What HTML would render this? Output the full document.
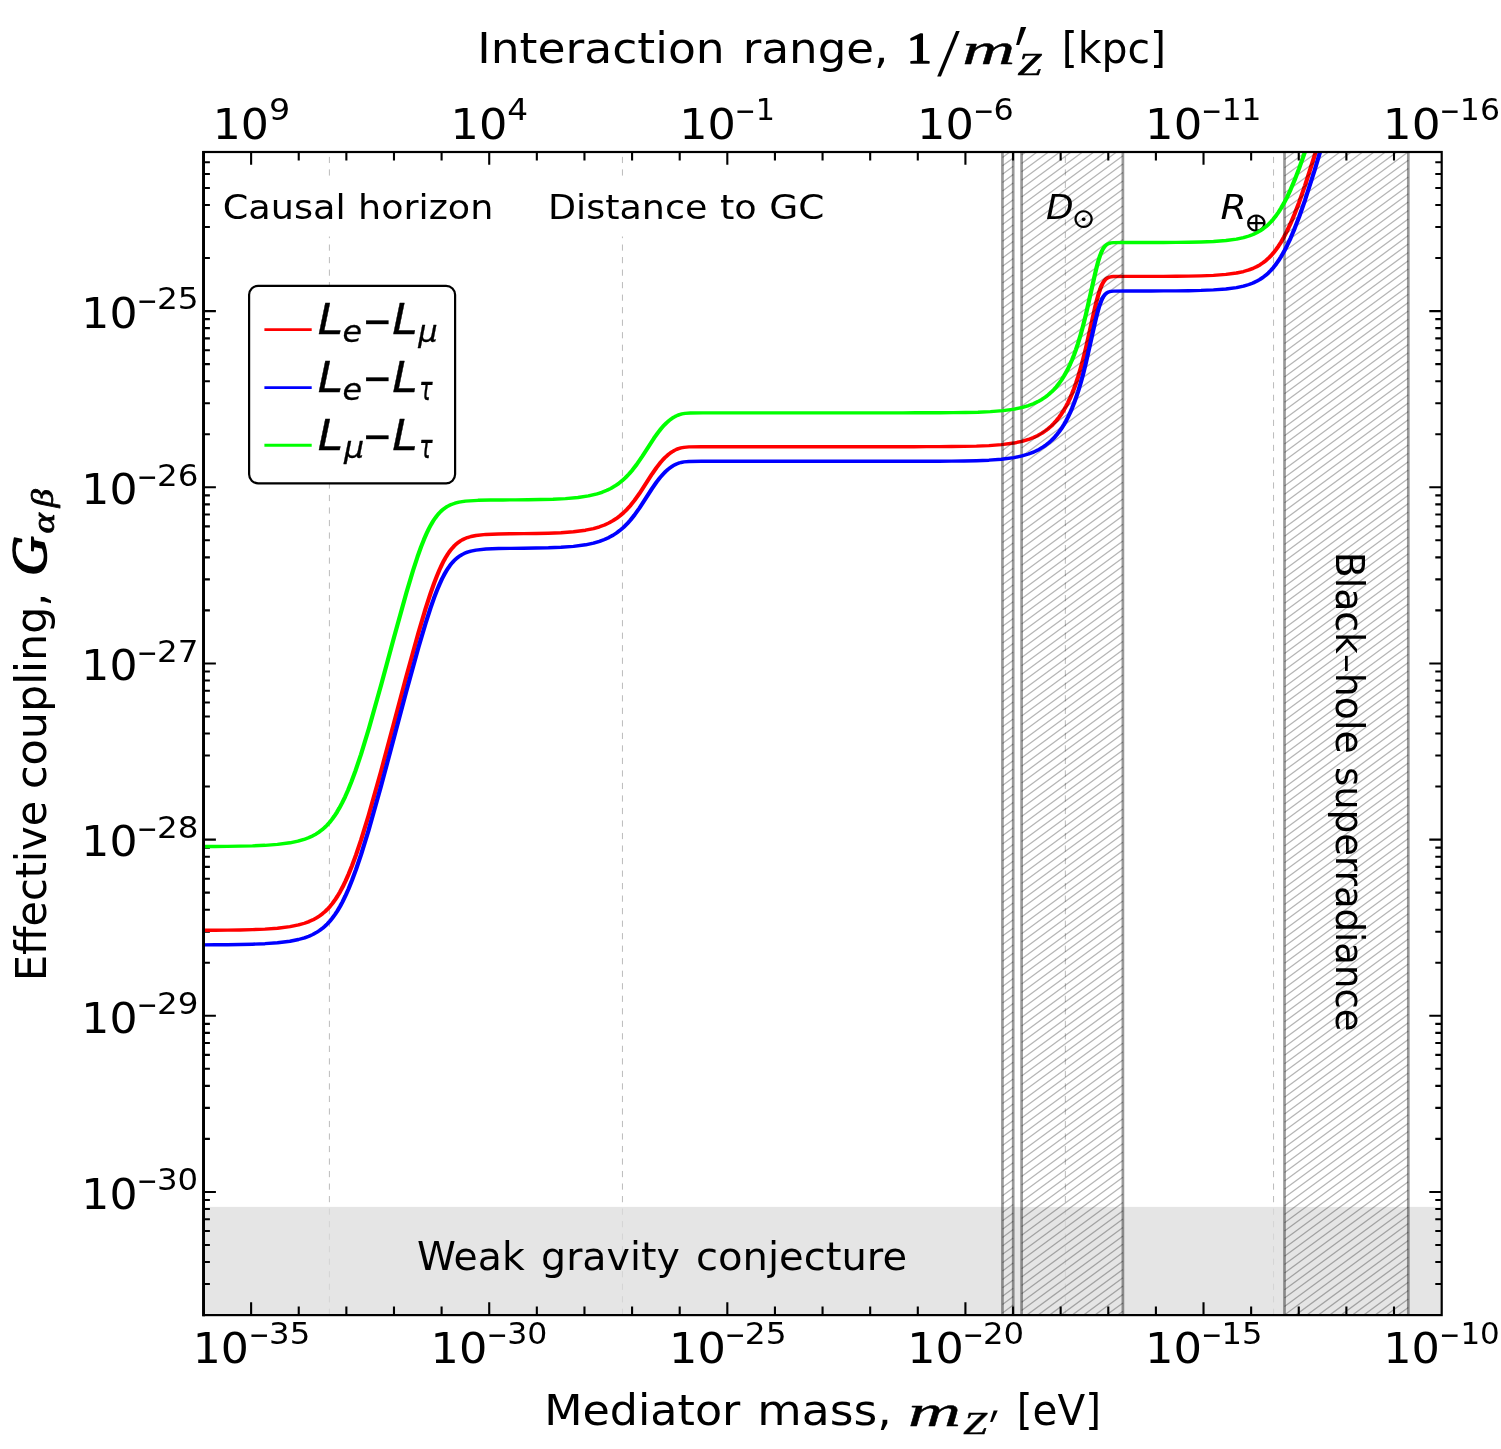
<!DOCTYPE html>
<html lang="en"><head><meta charset="utf-8"><title>Effective coupling vs mediator mass</title>
<style>html,body{margin:0;padding:0;background:#fff}svg{display:block}text{font-family:"DejaVu Sans","Liberation Sans",sans-serif;fill:#000}.i{font-style:italic}.b{font-weight:bold}.r,.rb,.rbi,.ri{font-family:"Liberation Serif","DejaVu Serif",serif}.rb,.rbi{font-weight:bold}.rbi,.ri{font-style:italic}.ds{font-family:"DejaVu Serif",serif}.dbi{font-family:"DejaVu Serif",serif;font-weight:bold;font-style:italic}</style></head><body>
<svg xmlns="http://www.w3.org/2000/svg" width="1501" height="1449" viewBox="0 0 1501 1449">
<defs>
<clipPath id="c"><rect x="203.50" y="152.00" width="1238.20" height="1163.10"/></clipPath>
</defs>
<rect width="1501" height="1449" fill="#fff"/>
<g stroke="#000" stroke-opacity="0.27" stroke-width="1" stroke-dasharray="6.2 6.32" stroke-dashoffset="7.66" fill="none">
<line x1="329.40" y1="152.0" x2="329.40" y2="1315.1"/>
<line x1="622.45" y1="152.0" x2="622.45" y2="1315.1"/>
<line x1="1065.35" y1="152.0" x2="1065.35" y2="1315.1"/>
<line x1="1273.55" y1="152.0" x2="1273.55" y2="1315.1"/>
</g>
<rect x="322" y="181" width="15" height="55.5" fill="#fff"/><rect x="615" y="181" width="15" height="55.5" fill="#fff"/>
<rect x="203.50" y="1206.9" width="1238.20" height="108.20" fill="#dcdcdc" fill-opacity="0.75"/>
<g>
<text transform="translate(1045.94 218.60) scale(1.0502 1)" font-size="34.18" class="i">D</text>
<text transform="translate(1071.22 228.00) scale(1.0556 1)" font-size="28.10" class="ds">⊙</text>
<text transform="translate(1220.61 218.60) scale(1.0951 1)" font-size="34.45" class="i">R</text>
<text transform="translate(1243.63 232.00) scale(1.0678 1)" font-size="27.63" class="ds">⊕</text>
</g>
<g stroke="#000" stroke-width="2.1" fill="none">
<path d="M251.12,152.00v12.8M251.12,1315.10v-12.8"/>
<path d="M298.74,152.00v8.5M298.74,1315.10v-8.5"/>
<path d="M346.36,152.00v8.5M346.36,1315.10v-8.5"/>
<path d="M393.98,152.00v8.5M393.98,1315.10v-8.5"/>
<path d="M441.60,152.00v8.5M441.60,1315.10v-8.5"/>
<path d="M489.22,152.00v12.8M489.22,1315.10v-12.8"/>
<path d="M536.84,152.00v8.5M536.84,1315.10v-8.5"/>
<path d="M584.46,152.00v8.5M584.46,1315.10v-8.5"/>
<path d="M632.08,152.00v8.5M632.08,1315.10v-8.5"/>
<path d="M679.70,152.00v8.5M679.70,1315.10v-8.5"/>
<path d="M727.32,152.00v12.8M727.32,1315.10v-12.8"/>
<path d="M774.94,152.00v8.5M774.94,1315.10v-8.5"/>
<path d="M822.56,152.00v8.5M822.56,1315.10v-8.5"/>
<path d="M870.18,152.00v8.5M870.18,1315.10v-8.5"/>
<path d="M917.80,152.00v8.5M917.80,1315.10v-8.5"/>
<path d="M965.42,152.00v12.8M965.42,1315.10v-12.8"/>
<path d="M1013.04,152.00v8.5M1013.04,1315.10v-8.5"/>
<path d="M1060.66,152.00v8.5M1060.66,1315.10v-8.5"/>
<path d="M1108.28,152.00v8.5M1108.28,1315.10v-8.5"/>
<path d="M1155.90,152.00v8.5M1155.90,1315.10v-8.5"/>
<path d="M1203.52,152.00v12.8M1203.52,1315.10v-12.8"/>
<path d="M1251.14,152.00v8.5M1251.14,1315.10v-8.5"/>
<path d="M1298.76,152.00v8.5M1298.76,1315.10v-8.5"/>
<path d="M1346.38,152.00v8.5M1346.38,1315.10v-8.5"/>
<path d="M1394.00,152.00v8.5M1394.00,1315.10v-8.5"/>
<path d="M203.50,1284.06h6.4M1441.70,1284.06h-6.4"/>
<path d="M203.50,1262.05h6.4M1441.70,1262.05h-6.4"/>
<path d="M203.50,1244.98h6.4M1441.70,1244.98h-6.4"/>
<path d="M203.50,1231.03h6.4M1441.70,1231.03h-6.4"/>
<path d="M203.50,1219.24h6.4M1441.70,1219.24h-6.4"/>
<path d="M203.50,1209.02h6.4M1441.70,1209.02h-6.4"/>
<path d="M203.50,1200.01h6.4M1441.70,1200.01h-6.4"/>
<path d="M203.50,1191.95h12.4M1441.70,1191.95h-12.4"/>
<path d="M203.50,1138.91h6.4M1441.70,1138.91h-6.4"/>
<path d="M203.50,1107.89h6.4M1441.70,1107.89h-6.4"/>
<path d="M203.50,1085.88h6.4M1441.70,1085.88h-6.4"/>
<path d="M203.50,1068.81h6.4M1441.70,1068.81h-6.4"/>
<path d="M203.50,1054.86h6.4M1441.70,1054.86h-6.4"/>
<path d="M203.50,1043.07h6.4M1441.70,1043.07h-6.4"/>
<path d="M203.50,1032.85h6.4M1441.70,1032.85h-6.4"/>
<path d="M203.50,1023.84h6.4M1441.70,1023.84h-6.4"/>
<path d="M203.50,1015.78h12.4M1441.70,1015.78h-12.4"/>
<path d="M203.50,962.74h6.4M1441.70,962.74h-6.4"/>
<path d="M203.50,931.72h6.4M1441.70,931.72h-6.4"/>
<path d="M203.50,909.71h6.4M1441.70,909.71h-6.4"/>
<path d="M203.50,892.64h6.4M1441.70,892.64h-6.4"/>
<path d="M203.50,878.69h6.4M1441.70,878.69h-6.4"/>
<path d="M203.50,866.90h6.4M1441.70,866.90h-6.4"/>
<path d="M203.50,856.68h6.4M1441.70,856.68h-6.4"/>
<path d="M203.50,847.67h6.4M1441.70,847.67h-6.4"/>
<path d="M203.50,839.61h12.4M1441.70,839.61h-12.4"/>
<path d="M203.50,786.57h6.4M1441.70,786.57h-6.4"/>
<path d="M203.50,755.55h6.4M1441.70,755.55h-6.4"/>
<path d="M203.50,733.54h6.4M1441.70,733.54h-6.4"/>
<path d="M203.50,716.47h6.4M1441.70,716.47h-6.4"/>
<path d="M203.50,702.52h6.4M1441.70,702.52h-6.4"/>
<path d="M203.50,690.73h6.4M1441.70,690.73h-6.4"/>
<path d="M203.50,680.51h6.4M1441.70,680.51h-6.4"/>
<path d="M203.50,671.50h6.4M1441.70,671.50h-6.4"/>
<path d="M203.50,663.44h12.4M1441.70,663.44h-12.4"/>
<path d="M203.50,610.40h6.4M1441.70,610.40h-6.4"/>
<path d="M203.50,579.38h6.4M1441.70,579.38h-6.4"/>
<path d="M203.50,557.37h6.4M1441.70,557.37h-6.4"/>
<path d="M203.50,540.30h6.4M1441.70,540.30h-6.4"/>
<path d="M203.50,526.35h6.4M1441.70,526.35h-6.4"/>
<path d="M203.50,514.56h6.4M1441.70,514.56h-6.4"/>
<path d="M203.50,504.34h6.4M1441.70,504.34h-6.4"/>
<path d="M203.50,495.33h6.4M1441.70,495.33h-6.4"/>
<path d="M203.50,487.27h12.4M1441.70,487.27h-12.4"/>
<path d="M203.50,434.23h6.4M1441.70,434.23h-6.4"/>
<path d="M203.50,403.21h6.4M1441.70,403.21h-6.4"/>
<path d="M203.50,381.20h6.4M1441.70,381.20h-6.4"/>
<path d="M203.50,364.13h6.4M1441.70,364.13h-6.4"/>
<path d="M203.50,350.18h6.4M1441.70,350.18h-6.4"/>
<path d="M203.50,338.39h6.4M1441.70,338.39h-6.4"/>
<path d="M203.50,328.17h6.4M1441.70,328.17h-6.4"/>
<path d="M203.50,319.16h6.4M1441.70,319.16h-6.4"/>
<path d="M203.50,311.10h12.4M1441.70,311.10h-12.4"/>
<path d="M203.50,258.06h6.4M1441.70,258.06h-6.4"/>
<path d="M203.50,227.04h6.4M1441.70,227.04h-6.4"/>
<path d="M203.50,205.03h6.4M1441.70,205.03h-6.4"/>
<path d="M203.50,187.96h6.4M1441.70,187.96h-6.4"/>
<path d="M203.50,174.01h6.4M1441.70,174.01h-6.4"/>
<path d="M203.50,162.22h6.4M1441.70,162.22h-6.4"/>
</g>
<g clip-path="url(#c)" fill="none" stroke-width="3.4" stroke-linejoin="round">
<path d="M162.00,930.28 172.00,930.22 182.00,930.11 192.00,929.93 202.00,929.62 212.00,929.10 222.00,928.21 232.00,926.65 238.80,924.95 243.60,923.25 247.20,921.60 250.40,919.79 253.20,917.88 255.60,915.95 258.00,913.71 260.00,911.57 262.00,909.15 264.00,906.42 266.00,903.36 268.00,899.93 270.00,896.12 272.00,891.90 274.00,887.26 276.40,881.12 278.80,874.37 281.60,865.74 284.80,854.94 288.80,840.18 294.80,815.89 304.80,771.57 314.80,724.87 324.80,677.87 334.80,632.53 340.40,608.94 344.40,593.45 347.20,583.52 349.60,575.72 351.60,569.78 353.60,564.38 355.20,560.47 356.80,556.92 358.40,553.73 360.00,550.89 361.60,548.38 363.20,546.18 364.80,544.27 366.40,542.62 368.00,541.21 369.60,540.00 371.60,538.75 374.00,537.56 376.80,536.51 380.80,535.49 388.80,534.43 398.80,533.95 408.80,533.77 418.80,533.64 428.80,533.48 438.80,533.20 448.80,532.70 458.80,531.78 468.40,530.20 474.80,528.53 479.60,526.80 483.60,524.95 487.20,522.88 490.40,520.67 493.20,518.40 496.00,515.78 498.80,512.76 501.60,509.32 504.40,505.43 507.60,500.43 511.60,493.41 521.60,474.06 525.20,467.56 528.00,463.04 530.40,459.60 532.40,457.05 534.40,454.80 536.40,452.85 538.00,451.51 539.60,450.36 541.20,449.40 542.80,448.64 544.80,447.91 547.20,447.34 551.20,446.88 561.20,446.72 571.20,446.72 581.20,446.72 591.20,446.72 601.20,446.72 611.20,446.72 621.20,446.72 631.20,446.72 641.20,446.72 651.20,446.72 661.20,446.72 671.20,446.72 681.20,446.72 691.20,446.72 701.20,446.71 711.20,446.71 721.20,446.70 731.20,446.69 741.20,446.66 751.20,446.62 761.20,446.54 771.20,446.38 781.20,446.11 791.20,445.60 801.20,444.68 811.20,443.03 817.60,441.35 822.80,439.44 826.80,437.54 830.40,435.43 833.60,433.16 836.40,430.81 838.80,428.48 841.20,425.82 843.20,423.31 845.20,420.51 847.20,417.37 849.20,413.85 851.20,409.90 852.80,406.40 854.40,402.57 856.00,398.37 857.60,393.77 859.20,388.74 860.80,383.25 862.40,377.25 864.40,369.02 866.40,359.94 868.80,347.94 876.00,307.84 877.20,301.63 878.40,295.98 879.20,292.60 880.00,289.58 880.80,286.93 881.60,284.66 882.00,283.66 882.40,282.76 882.80,281.94 883.20,281.20 883.60,280.55 884.00,279.96 884.40,279.44 884.80,278.99 885.20,278.59 886.00,277.95 886.80,277.48 887.60,277.13 888.80,276.80 890.80,276.54 900.80,276.41 910.80,276.39 920.80,276.37 930.80,276.33 940.80,276.25 950.80,276.11 960.80,275.84 970.80,275.35 980.80,274.42 989.20,273.01 994.80,271.53 999.20,269.90 1002.40,268.38 1005.20,266.75 1008.00,264.78 1010.40,262.78 1012.80,260.44 1014.80,258.20 1016.80,255.67 1018.80,252.83 1020.80,249.64 1022.80,246.09 1024.80,242.17 1027.20,236.95 1029.60,231.16 1032.40,223.70 1035.60,214.28 1039.20,202.64 1044.00,185.62 1051.60,156.01 1054.00,146.14" stroke="#ff0000" transform="scale(1.25 1)"/>
<path d="M1002.5,157.4L1009.8,152.0M1002.5,165.8L1013.2,157.9M1002.5,174.2L1013.2,166.3M1002.5,182.6L1013.2,174.6M1002.5,190.9L1013.2,183.0M1002.5,199.3L1013.2,191.4M1002.5,207.7L1013.2,199.8M1002.5,216.1L1013.2,208.1M1002.5,224.4L1013.2,216.5M1002.5,232.8L1013.2,224.9M1002.5,241.2L1013.2,233.3M1002.5,249.5L1013.2,241.6M1002.5,257.9L1013.2,250.0M1002.5,266.3L1013.2,258.4M1002.5,274.7L1013.2,266.7M1002.5,283.0L1013.2,275.1M1002.5,291.4L1013.2,283.5M1002.5,299.8L1013.2,291.9M1002.5,308.2L1013.2,300.2M1002.5,316.5L1013.2,308.6M1002.5,324.9L1013.2,317.0M1002.5,333.3L1013.2,325.4M1002.5,341.6L1013.2,333.7M1002.5,350.0L1013.2,342.1M1002.5,358.4L1013.2,350.5M1002.5,366.8L1013.2,358.8M1002.5,375.1L1013.2,367.2M1002.5,383.5L1013.2,375.6M1002.5,391.9L1013.2,384.0M1002.5,400.3L1013.2,392.3M1002.5,408.6L1013.2,400.7M1002.5,417.0L1013.2,409.1M1002.5,425.4L1013.2,417.5M1002.5,433.8L1013.2,425.8M1002.5,442.1L1013.2,434.2M1002.5,450.5L1013.2,442.6M1002.5,458.9L1013.2,450.9M1002.5,467.2L1013.2,459.3M1002.5,475.6L1013.2,467.7M1002.5,484.0L1013.2,476.1M1002.5,492.4L1013.2,484.4M1002.5,500.7L1013.2,492.8M1002.5,509.1L1013.2,501.2M1002.5,517.5L1013.2,509.6M1002.5,525.9L1013.2,517.9M1002.5,534.2L1013.2,526.3M1002.5,542.6L1013.2,534.7M1002.5,551.0L1013.2,543.1M1002.5,559.3L1013.2,551.4M1002.5,567.7L1013.2,559.8M1002.5,576.1L1013.2,568.2M1002.5,584.5L1013.2,576.5M1002.5,592.8L1013.2,584.9M1002.5,601.2L1013.2,593.3M1002.5,609.6L1013.2,601.7M1002.5,618.0L1013.2,610.0M1002.5,626.3L1013.2,618.4M1002.5,634.7L1013.2,626.8M1002.5,643.1L1013.2,635.2M1002.5,651.4L1013.2,643.5M1002.5,659.8L1013.2,651.9M1002.5,668.2L1013.2,660.3M1002.5,676.6L1013.2,668.6M1002.5,684.9L1013.2,677.0M1002.5,693.3L1013.2,685.4M1002.5,701.7L1013.2,693.8M1002.5,710.1L1013.2,702.1M1002.5,718.4L1013.2,710.5M1002.5,726.8L1013.2,718.9M1002.5,735.2L1013.2,727.3M1002.5,743.6L1013.2,735.6M1002.5,751.9L1013.2,744.0M1002.5,760.3L1013.2,752.4M1002.5,768.7L1013.2,760.7M1002.5,777.0L1013.2,769.1M1002.5,785.4L1013.2,777.5M1002.5,793.8L1013.2,785.9M1002.5,802.2L1013.2,794.2M1002.5,810.5L1013.2,802.6M1002.5,818.9L1013.2,811.0M1002.5,827.3L1013.2,819.4M1002.5,835.7L1013.2,827.7M1002.5,844.0L1013.2,836.1M1002.5,852.4L1013.2,844.5M1002.5,860.8L1013.2,852.9M1002.5,869.1L1013.2,861.2M1002.5,877.5L1013.2,869.6M1002.5,885.9L1013.2,878.0M1002.5,894.3L1013.2,886.3M1002.5,902.6L1013.2,894.7M1002.5,911.0L1013.2,903.1M1002.5,919.4L1013.2,911.5M1002.5,927.8L1013.2,919.8M1002.5,936.1L1013.2,928.2M1002.5,944.5L1013.2,936.6M1002.5,952.9L1013.2,945.0M1002.5,961.3L1013.2,953.3M1002.5,969.6L1013.2,961.7M1002.5,978.0L1013.2,970.1M1002.5,986.4L1013.2,978.4M1002.5,994.7L1013.2,986.8M1002.5,1003.1L1013.2,995.2M1002.5,1011.5L1013.2,1003.6M1002.5,1019.9L1013.2,1011.9M1002.5,1028.2L1013.2,1020.3M1002.5,1036.6L1013.2,1028.7M1002.5,1045.0L1013.2,1037.1M1002.5,1053.4L1013.2,1045.4M1002.5,1061.7L1013.2,1053.8M1002.5,1070.1L1013.2,1062.2M1002.5,1078.5L1013.2,1070.6M1002.5,1086.8L1013.2,1078.9M1002.5,1095.2L1013.2,1087.3M1002.5,1103.6L1013.2,1095.7M1002.5,1112.0L1013.2,1104.0M1002.5,1120.3L1013.2,1112.4M1002.5,1128.7L1013.2,1120.8M1002.5,1137.1L1013.2,1129.2M1002.5,1145.5L1013.2,1137.5M1002.5,1153.8L1013.2,1145.9M1002.5,1162.2L1013.2,1154.3M1002.5,1170.6L1013.2,1162.7M1002.5,1178.9L1013.2,1171.0M1002.5,1187.3L1013.2,1179.4M1002.5,1195.7L1013.2,1187.8M1002.5,1204.1L1013.2,1196.1M1002.5,1212.4L1013.2,1204.5M1002.5,1220.8L1013.2,1212.9M1002.5,1229.2L1013.2,1221.3M1002.5,1237.6L1013.2,1229.6M1002.5,1245.9L1013.2,1238.0M1002.5,1254.3L1013.2,1246.4M1002.5,1262.7L1013.2,1254.8M1002.5,1271.1L1013.2,1263.1M1002.5,1279.4L1013.2,1271.5M1002.5,1287.8L1013.2,1279.9M1002.5,1296.2L1013.2,1288.2M1002.5,1304.5L1013.2,1296.6M1002.5,1312.9L1013.2,1305.0M1010.8,1315.1L1013.2,1313.4" stroke="#000" stroke-opacity="0.29" stroke-width="1.3"/>
<path d="M1002.45,152.00V1315.10M1013.20,152.00V1315.10" stroke="#000" stroke-opacity="0.4" stroke-width="2.7"/>
<path d="M1021.6,155.1L1025.8,152.0M1021.6,163.4L1037.1,152.0M1021.6,171.8L1048.5,152.0M1021.6,180.2L1059.8,152.0M1021.6,188.6L1071.2,152.0M1021.6,196.9L1082.6,152.0M1021.6,205.3L1093.9,152.0M1021.6,213.7L1105.3,152.0M1021.6,222.0L1116.6,152.0M1021.6,230.4L1122.9,155.8M1021.6,238.8L1122.9,164.1M1021.6,247.2L1122.9,172.5M1021.6,255.5L1122.9,180.9M1021.6,263.9L1122.9,189.3M1021.6,272.3L1122.9,197.6M1021.6,280.7L1122.9,206.0M1021.6,289.0L1122.9,214.4M1021.6,297.4L1122.9,222.7M1021.6,305.8L1122.9,231.1M1021.6,314.1L1122.9,239.5M1021.6,322.5L1122.9,247.9M1021.6,330.9L1122.9,256.2M1021.6,339.3L1122.9,264.6M1021.6,347.6L1122.9,273.0M1021.6,356.0L1122.9,281.4M1021.6,364.4L1122.9,289.7M1021.6,372.8L1122.9,298.1M1021.6,381.1L1122.9,306.5M1021.6,389.5L1122.9,314.8M1021.6,397.9L1122.9,323.2M1021.6,406.3L1122.9,331.6M1021.6,414.6L1122.9,340.0M1021.6,423.0L1122.9,348.3M1021.6,431.4L1122.9,356.7M1021.6,439.7L1122.9,365.1M1021.6,448.1L1122.9,373.5M1021.6,456.5L1122.9,381.8M1021.6,464.9L1122.9,390.2M1021.6,473.2L1122.9,398.6M1021.6,481.6L1122.9,407.0M1021.6,490.0L1122.9,415.3M1021.6,498.4L1122.9,423.7M1021.6,506.7L1122.9,432.1M1021.6,515.1L1122.9,440.4M1021.6,523.5L1122.9,448.8M1021.6,531.8L1122.9,457.2M1021.6,540.2L1122.9,465.6M1021.6,548.6L1122.9,473.9M1021.6,557.0L1122.9,482.3M1021.6,565.3L1122.9,490.7M1021.6,573.7L1122.9,499.1M1021.6,582.1L1122.9,507.4M1021.6,590.5L1122.9,515.8M1021.6,598.8L1122.9,524.2M1021.6,607.2L1122.9,532.5M1021.6,615.6L1122.9,540.9M1021.6,624.0L1122.9,549.3M1021.6,632.3L1122.9,557.7M1021.6,640.7L1122.9,566.0M1021.6,649.1L1122.9,574.4M1021.6,657.4L1122.9,582.8M1021.6,665.8L1122.9,591.2M1021.6,674.2L1122.9,599.5M1021.6,682.6L1122.9,607.9M1021.6,690.9L1122.9,616.3M1021.6,699.3L1122.9,624.6M1021.6,707.7L1122.9,633.0M1021.6,716.1L1122.9,641.4M1021.6,724.4L1122.9,649.8M1021.6,732.8L1122.9,658.1M1021.6,741.2L1122.9,666.5M1021.6,749.5L1122.9,674.9M1021.6,757.9L1122.9,683.3M1021.6,766.3L1122.9,691.6M1021.6,774.7L1122.9,700.0M1021.6,783.0L1122.9,708.4M1021.6,791.4L1122.9,716.8M1021.6,799.8L1122.9,725.1M1021.6,808.2L1122.9,733.5M1021.6,816.5L1122.9,741.9M1021.6,824.9L1122.9,750.2M1021.6,833.3L1122.9,758.6M1021.6,841.6L1122.9,767.0M1021.6,850.0L1122.9,775.4M1021.6,858.4L1122.9,783.7M1021.6,866.8L1122.9,792.1M1021.6,875.1L1122.9,800.5M1021.6,883.5L1122.9,808.9M1021.6,891.9L1122.9,817.2M1021.6,900.3L1122.9,825.6M1021.6,908.6L1122.9,834.0M1021.6,917.0L1122.9,842.3M1021.6,925.4L1122.9,850.7M1021.6,933.8L1122.9,859.1M1021.6,942.1L1122.9,867.5M1021.6,950.5L1122.9,875.8M1021.6,958.9L1122.9,884.2M1021.6,967.2L1122.9,892.6M1021.6,975.6L1122.9,901.0M1021.6,984.0L1122.9,909.3M1021.6,992.4L1122.9,917.7M1021.6,1000.7L1122.9,926.1M1021.6,1009.1L1122.9,934.5M1021.6,1017.5L1122.9,942.8M1021.6,1025.9L1122.9,951.2M1021.6,1034.2L1122.9,959.6M1021.6,1042.6L1122.9,967.9M1021.6,1051.0L1122.9,976.3M1021.6,1059.3L1122.9,984.7M1021.6,1067.7L1122.9,993.1M1021.6,1076.1L1122.9,1001.4M1021.6,1084.5L1122.9,1009.8M1021.6,1092.8L1122.9,1018.2M1021.6,1101.2L1122.9,1026.6M1021.6,1109.6L1122.9,1034.9M1021.6,1118.0L1122.9,1043.3M1021.6,1126.3L1122.9,1051.7M1021.6,1134.7L1122.9,1060.0M1021.6,1143.1L1122.9,1068.4M1021.6,1151.4L1122.9,1076.8M1021.6,1159.8L1122.9,1085.2M1021.6,1168.2L1122.9,1093.5M1021.6,1176.6L1122.9,1101.9M1021.6,1184.9L1122.9,1110.3M1021.6,1193.3L1122.9,1118.7M1021.6,1201.7L1122.9,1127.0M1021.6,1210.1L1122.9,1135.4M1021.6,1218.4L1122.9,1143.8M1021.6,1226.8L1122.9,1152.1M1021.6,1235.2L1122.9,1160.5M1021.6,1243.6L1122.9,1168.9M1021.6,1251.9L1122.9,1177.3M1021.6,1260.3L1122.9,1185.6M1021.6,1268.7L1122.9,1194.0M1021.6,1277.0L1122.9,1202.4M1021.6,1285.4L1122.9,1210.8M1021.6,1293.8L1122.9,1219.1M1021.6,1302.2L1122.9,1227.5M1021.6,1310.5L1122.9,1235.9M1026.8,1315.1L1122.9,1244.3M1038.1,1315.1L1122.9,1252.6M1049.5,1315.1L1122.9,1261.0M1060.9,1315.1L1122.9,1269.4M1072.2,1315.1L1122.9,1277.7M1083.6,1315.1L1122.9,1286.1M1094.9,1315.1L1122.9,1294.5M1106.3,1315.1L1122.9,1302.9M1117.7,1315.1L1122.9,1311.2" stroke="#000" stroke-opacity="0.29" stroke-width="1.3"/>
<path d="M1021.60,152.00V1315.10M1122.90,152.00V1315.10" stroke="#000" stroke-opacity="0.4" stroke-width="2.7"/>
<path d="M1284.5,159.4L1294.5,152.0M1284.5,167.8L1305.9,152.0M1284.5,176.1L1317.3,152.0M1284.5,184.5L1328.6,152.0M1284.5,192.9L1340.0,152.0M1284.5,201.3L1351.3,152.0M1284.5,209.6L1362.7,152.0M1284.5,218.0L1374.1,152.0M1284.5,226.4L1385.4,152.0M1284.5,234.8L1396.8,152.0M1284.5,243.1L1408.1,152.0M1284.5,251.5L1408.3,160.3M1284.5,259.9L1408.3,168.6M1284.5,268.2L1408.3,177.0M1284.5,276.6L1408.3,185.4M1284.5,285.0L1408.3,193.8M1284.5,293.4L1408.3,202.1M1284.5,301.7L1408.3,210.5M1284.5,310.1L1408.3,218.9M1284.5,318.5L1408.3,227.2M1284.5,326.9L1408.3,235.6M1284.5,335.2L1408.3,244.0M1284.5,343.6L1408.3,252.4M1284.5,352.0L1408.3,260.7M1284.5,360.3L1408.3,269.1M1284.5,368.7L1408.3,277.5M1284.5,377.1L1408.3,285.9M1284.5,385.5L1408.3,294.2M1284.5,393.8L1408.3,302.6M1284.5,402.2L1408.3,311.0M1284.5,410.6L1408.3,319.3M1284.5,419.0L1408.3,327.7M1284.5,427.3L1408.3,336.1M1284.5,435.7L1408.3,344.5M1284.5,444.1L1408.3,352.8M1284.5,452.5L1408.3,361.2M1284.5,460.8L1408.3,369.6M1284.5,469.2L1408.3,378.0M1284.5,477.6L1408.3,386.3M1284.5,485.9L1408.3,394.7M1284.5,494.3L1408.3,403.1M1284.5,502.7L1408.3,411.4M1284.5,511.1L1408.3,419.8M1284.5,519.4L1408.3,428.2M1284.5,527.8L1408.3,436.6M1284.5,536.2L1408.3,444.9M1284.5,544.6L1408.3,453.3M1284.5,552.9L1408.3,461.7M1284.5,561.3L1408.3,470.1M1284.5,569.7L1408.3,478.4M1284.5,578.0L1408.3,486.8M1284.5,586.4L1408.3,495.2M1284.5,594.8L1408.3,503.6M1284.5,603.2L1408.3,511.9M1284.5,611.5L1408.3,520.3M1284.5,619.9L1408.3,528.7M1284.5,628.3L1408.3,537.0M1284.5,636.7L1408.3,545.4M1284.5,645.0L1408.3,553.8M1284.5,653.4L1408.3,562.2M1284.5,661.8L1408.3,570.5M1284.5,670.2L1408.3,578.9M1284.5,678.5L1408.3,587.3M1284.5,686.9L1408.3,595.7M1284.5,695.3L1408.3,604.0M1284.5,703.6L1408.3,612.4M1284.5,712.0L1408.3,620.8M1284.5,720.4L1408.3,629.1M1284.5,728.8L1408.3,637.5M1284.5,737.1L1408.3,645.9M1284.5,745.5L1408.3,654.3M1284.5,753.9L1408.3,662.6M1284.5,762.3L1408.3,671.0M1284.5,770.6L1408.3,679.4M1284.5,779.0L1408.3,687.8M1284.5,787.4L1408.3,696.1M1284.5,795.7L1408.3,704.5M1284.5,804.1L1408.3,712.9M1284.5,812.5L1408.3,721.3M1284.5,820.9L1408.3,729.6M1284.5,829.2L1408.3,738.0M1284.5,837.6L1408.3,746.4M1284.5,846.0L1408.3,754.7M1284.5,854.4L1408.3,763.1M1284.5,862.7L1408.3,771.5M1284.5,871.1L1408.3,779.9M1284.5,879.5L1408.3,788.2M1284.5,887.8L1408.3,796.6M1284.5,896.2L1408.3,805.0M1284.5,904.6L1408.3,813.4M1284.5,913.0L1408.3,821.7M1284.5,921.3L1408.3,830.1M1284.5,929.7L1408.3,838.5M1284.5,938.1L1408.3,846.8M1284.5,946.5L1408.3,855.2M1284.5,954.8L1408.3,863.6M1284.5,963.2L1408.3,872.0M1284.5,971.6L1408.3,880.3M1284.5,980.0L1408.3,888.7M1284.5,988.3L1408.3,897.1M1284.5,996.7L1408.3,905.5M1284.5,1005.1L1408.3,913.8M1284.5,1013.4L1408.3,922.2M1284.5,1021.8L1408.3,930.6M1284.5,1030.2L1408.3,938.9M1284.5,1038.6L1408.3,947.3M1284.5,1046.9L1408.3,955.7M1284.5,1055.3L1408.3,964.1M1284.5,1063.7L1408.3,972.4M1284.5,1072.1L1408.3,980.8M1284.5,1080.4L1408.3,989.2M1284.5,1088.8L1408.3,997.6M1284.5,1097.2L1408.3,1005.9M1284.5,1105.5L1408.3,1014.3M1284.5,1113.9L1408.3,1022.7M1284.5,1122.3L1408.3,1031.1M1284.5,1130.7L1408.3,1039.4M1284.5,1139.0L1408.3,1047.8M1284.5,1147.4L1408.3,1056.2M1284.5,1155.8L1408.3,1064.5M1284.5,1164.2L1408.3,1072.9M1284.5,1172.5L1408.3,1081.3M1284.5,1180.9L1408.3,1089.7M1284.5,1189.3L1408.3,1098.0M1284.5,1197.6L1408.3,1106.4M1284.5,1206.0L1408.3,1114.8M1284.5,1214.4L1408.3,1123.2M1284.5,1222.8L1408.3,1131.5M1284.5,1231.1L1408.3,1139.9M1284.5,1239.5L1408.3,1148.3M1284.5,1247.9L1408.3,1156.6M1284.5,1256.3L1408.3,1165.0M1284.5,1264.6L1408.3,1173.4M1284.5,1273.0L1408.3,1181.8M1284.5,1281.4L1408.3,1190.1M1284.5,1289.8L1408.3,1198.5M1284.5,1298.1L1408.3,1206.9M1284.5,1306.5L1408.3,1215.3M1284.5,1314.9L1408.3,1223.6M1295.6,1315.1L1408.3,1232.0M1306.9,1315.1L1408.3,1240.4M1318.3,1315.1L1408.3,1248.7M1329.6,1315.1L1408.3,1257.1M1341.0,1315.1L1408.3,1265.5M1352.4,1315.1L1408.3,1273.9M1363.7,1315.1L1408.3,1282.2M1375.1,1315.1L1408.3,1290.6M1386.4,1315.1L1408.3,1299.0M1397.8,1315.1L1408.3,1307.4" stroke="#000" stroke-opacity="0.29" stroke-width="1.3"/>
<path d="M1284.50,152.00V1315.10M1408.30,152.00V1315.10" stroke="#000" stroke-opacity="0.4" stroke-width="2.7"/>
<path d="M162.00,944.86 172.00,944.80 182.00,944.69 192.00,944.51 202.00,944.20 212.00,943.68 222.00,942.79 232.00,941.23 238.80,939.52 243.60,937.83 247.20,936.18 250.40,934.37 253.20,932.46 255.60,930.53 258.00,928.29 260.00,926.15 262.00,923.73 264.00,921.00 266.00,917.94 268.00,914.51 270.00,910.70 272.00,906.48 274.00,901.83 276.40,895.70 278.80,888.95 281.60,880.32 284.80,869.52 288.80,854.76 294.80,830.47 304.80,786.15 314.80,739.45 324.80,692.45 334.80,647.11 340.40,623.52 344.40,608.03 347.20,598.10 349.60,590.30 351.60,584.36 353.60,578.96 355.20,575.05 356.80,571.50 358.40,568.31 360.00,565.46 361.60,562.95 363.20,560.76 364.80,558.85 366.40,557.20 368.00,555.78 369.60,554.58 371.60,553.33 374.00,552.14 376.80,551.09 380.80,550.07 388.80,549.01 398.80,548.53 408.80,548.34 418.80,548.22 428.80,548.06 438.80,547.78 448.80,547.27 458.80,546.36 468.40,544.78 474.80,543.11 479.60,541.38 483.60,539.53 487.20,537.46 490.40,535.25 493.20,532.98 496.00,530.36 498.80,527.34 501.60,523.90 504.40,520.01 507.60,515.01 511.60,507.99 521.60,488.63 525.20,482.14 528.00,477.62 530.40,474.18 532.40,471.63 534.40,469.38 536.40,467.43 538.00,466.08 539.60,464.94 541.20,463.98 542.80,463.21 544.80,462.49 547.20,461.92 551.20,461.46 561.20,461.30 571.20,461.30 581.20,461.30 591.20,461.30 601.20,461.30 611.20,461.30 621.20,461.30 631.20,461.30 641.20,461.30 651.20,461.30 661.20,461.30 671.20,461.30 681.20,461.30 691.20,461.29 701.20,461.29 711.20,461.29 721.20,461.28 731.20,461.27 741.20,461.24 751.20,461.20 761.20,461.11 771.20,460.96 781.20,460.68 791.20,460.18 801.20,459.26 811.20,457.61 817.60,455.93 822.80,454.02 826.80,452.12 830.40,450.01 833.60,447.73 836.40,445.39 838.80,443.06 841.20,440.40 843.20,437.89 845.20,435.09 847.20,431.95 849.20,428.42 851.20,424.48 852.80,420.98 854.40,417.15 856.00,412.95 857.60,408.35 859.20,403.32 860.80,397.82 862.40,391.83 864.40,383.60 866.40,374.52 868.80,362.52 876.00,322.41 877.20,316.20 878.40,310.55 879.20,307.18 880.00,304.15 880.80,301.51 881.60,299.24 882.00,298.24 882.40,297.34 882.80,296.52 883.20,295.78 883.60,295.12 884.00,294.54 884.40,294.02 884.80,293.57 885.20,293.17 886.00,292.53 886.80,292.06 887.60,291.71 888.80,291.38 890.80,291.11 900.80,290.98 910.80,290.97 920.80,290.95 930.80,290.91 940.80,290.83 950.80,290.68 960.80,290.42 970.80,289.92 980.80,289.00 989.20,287.59 994.80,286.11 999.20,284.48 1002.40,282.96 1005.20,281.33 1008.00,279.36 1010.40,277.35 1012.80,275.02 1014.80,272.78 1016.80,270.25 1018.80,267.40 1020.80,264.22 1022.80,260.67 1024.80,256.75 1027.20,251.53 1029.60,245.74 1032.40,238.28 1035.60,228.86 1039.20,217.22 1044.00,200.20 1051.60,170.58 1057.20,147.29" stroke="#0000ff" transform="scale(1.25 1)"/>
<path d="M162.00,846.54 172.00,846.47 182.00,846.36 192.00,846.17 202.00,845.86 212.00,845.32 222.00,844.40 232.00,842.79 238.40,841.16 243.20,839.44 246.80,837.78 250.00,835.96 252.80,834.03 255.20,832.09 257.60,829.83 259.60,827.67 261.60,825.23 263.60,822.48 265.60,819.39 267.60,815.93 269.60,812.09 271.60,807.84 273.60,803.18 276.00,797.01 278.40,790.22 281.20,781.56 284.40,770.72 288.80,754.38 295.20,728.22 305.20,683.72 315.20,637.46 325.20,592.33 330.40,570.60 334.00,556.81 336.80,547.02 339.20,539.39 341.20,533.63 343.20,528.43 344.80,524.69 346.40,521.31 348.00,518.30 349.60,515.63 351.20,513.28 352.80,511.24 354.40,509.48 356.00,507.96 357.60,506.67 359.60,505.32 361.60,504.23 364.00,503.20 367.20,502.19 372.40,501.16 382.40,500.32 392.40,500.05 402.40,499.94 412.40,499.86 422.40,499.76 432.40,499.57 442.40,499.24 452.40,498.63 462.40,497.53 470.80,495.94 476.80,494.21 481.60,492.32 485.60,490.31 488.80,488.34 492.00,485.99 494.80,483.59 497.60,480.81 500.40,477.63 503.20,474.02 506.00,469.95 509.20,464.75 514.00,456.00 523.20,438.16 526.40,432.54 528.80,428.74 531.20,425.35 533.20,422.84 535.20,420.63 537.20,418.72 538.80,417.41 540.40,416.30 542.00,415.38 543.60,414.64 545.60,413.96 548.00,413.42 552.40,412.97 562.40,412.85 572.40,412.85 582.40,412.85 592.40,412.85 602.40,412.85 612.40,412.85 622.40,412.85 632.40,412.85 642.40,412.85 652.40,412.85 662.40,412.85 672.40,412.85 682.40,412.84 692.40,412.84 702.40,412.84 712.40,412.84 722.40,412.83 732.40,412.81 742.40,412.79 752.40,412.74 762.40,412.65 772.40,412.49 782.40,412.19 792.40,411.65 802.40,410.66 811.60,409.08 818.00,407.35 822.80,405.58 826.80,403.68 830.40,401.57 833.60,399.30 836.40,396.95 838.80,394.63 841.20,391.97 843.20,389.47 845.20,386.67 847.20,383.53 849.20,380.01 851.20,376.07 852.80,372.58 854.40,368.75 856.00,364.56 857.60,359.96 859.20,354.94 860.80,349.45 862.40,343.47 864.40,335.25 866.40,326.17 868.80,314.18 876.00,274.08 877.20,267.86 878.40,262.20 879.20,258.81 880.00,255.78 880.80,253.12 881.60,250.84 882.00,249.84 882.40,248.93 882.80,248.10 883.20,247.36 883.60,246.70 884.00,246.11 884.40,245.59 884.80,245.13 885.20,244.74 886.00,244.09 886.80,243.61 887.60,243.26 888.80,242.92 890.80,242.66 900.80,242.53 910.80,242.51 920.80,242.49 930.80,242.45 940.80,242.37 950.80,242.23 960.80,241.96 970.80,241.47 980.80,240.54 989.20,239.13 994.80,237.65 999.20,236.02 1002.40,234.50 1005.20,232.87 1008.00,230.90 1010.40,228.90 1012.80,226.56 1014.80,224.32 1016.80,221.79 1018.80,218.95 1020.80,215.76 1022.80,212.21 1024.80,208.29 1027.20,203.07 1029.60,197.28 1032.40,189.82 1035.60,180.40 1039.20,168.76 1044.00,151.74 1045.20,147.26" stroke="#00ff00" transform="scale(1.25 1)"/>
</g>
<rect x="203.50" y="152.00" width="1238.20" height="1163.10" fill="none" stroke="#000" stroke-width="2.2"/>
<line x1="203.55" y1="150.9" x2="203.55" y2="1316.2" stroke="#000" stroke-width="2.9"/>
<rect x="249.1" y="285.8" width="206" height="197.5" rx="9" fill="#fff" stroke="#000" stroke-width="2.2"/>
<line x1="264.4" y1="329.6" x2="311.7" y2="329.6" stroke="#ff0000" stroke-width="2.9"/>
<line x1="264.4" y1="387.6" x2="311.7" y2="387.6" stroke="#0000ff" stroke-width="2.9"/>
<line x1="264.4" y1="445.3" x2="311.7" y2="445.3" stroke="#00ff00" stroke-width="2.9"/>
<g>
<text transform="translate(477.22 63.30) scale(1.0615 1)" font-size="43.00">Interaction</text>
<text transform="translate(742.87 63.30) scale(1.0497 1)" font-size="43.00">range,</text>
<text transform="translate(906.83 63.15) scale(1.1575 1)" font-size="43.31" class="r" stroke="#000" stroke-width="1.58" stroke-linejoin="round">1</text>
<text transform="translate(940.39 74.54) scale(0.8008 1)" font-size="67.78" class="rbi">/</text>
<text transform="translate(962.36 63.95) scale(1.6746 1)" font-size="43.77" class="ri" stroke="#000" stroke-width="0.37" stroke-linejoin="round">m</text>
<text transform="translate(1015.90 97.88) scale(0.4111 1)" font-size="97.07" class="dbi">′</text>
<text transform="translate(1017.50 74.70) scale(1.3721 1)" font-size="31.39" class="ri" stroke="#000" stroke-width="0.51" stroke-linejoin="round">Z</text>
<text transform="translate(1061.69 63.30) scale(0.9553 1)" font-size="43.00">[kpc]</text>
<text transform="translate(212.77 138.70) scale(1.0271 1)" font-size="43.00">10</text>
<text transform="translate(269.12 120.20) scale(1.0830 1)" font-size="30.80">9</text>
<text transform="translate(450.62 138.70) scale(1.0376 1)" font-size="43.00">10</text>
<text transform="translate(507.27 120.20) scale(1.0627 1)" font-size="30.80">4</text>
<text transform="translate(679.13 138.70) scale(1.0355 1)" font-size="43.00">10</text>
<text transform="translate(734.76 120.93) scale(0.8362 1)" font-size="29.87">−</text>
<text transform="translate(755.80 120.20) scale(0.9796 1)" font-size="30.80">1</text>
<text transform="translate(917.02 138.70) scale(1.0376 1)" font-size="43.00">10</text>
<text transform="translate(973.16 120.93) scale(0.8362 1)" font-size="29.87">−</text>
<text transform="translate(993.51 120.20) scale(1.0327 1)" font-size="30.80">6</text>
<text transform="translate(1145.09 138.70) scale(1.0439 1)" font-size="43.00">10</text>
<text transform="translate(1201.27 120.93) scale(0.8310 1)" font-size="29.87">−</text>
<text transform="translate(1221.68 120.20) scale(1.0160 1)" font-size="30.80">11</text>
<text transform="translate(1382.73 138.70) scale(1.0565 1)" font-size="43.00">10</text>
<text transform="translate(1439.59 120.93) scale(0.8258 1)" font-size="29.87">−</text>
<text transform="translate(1459.86 120.20) scale(1.0225 1)" font-size="30.80">16</text>
<text transform="translate(192.77 1362.90) scale(1.0271 1)" font-size="43.00">10</text>
<text transform="translate(248.87 1345.13) scale(0.8310 1)" font-size="29.87">−</text>
<text transform="translate(269.08 1344.40) scale(1.0516 1)" font-size="30.80">35</text>
<text transform="translate(430.62 1362.90) scale(1.0376 1)" font-size="43.00">10</text>
<text transform="translate(486.76 1345.13) scale(0.8362 1)" font-size="29.87">−</text>
<text transform="translate(507.23 1344.40) scale(1.0232 1)" font-size="30.80">30</text>
<text transform="translate(669.02 1362.90) scale(1.0376 1)" font-size="43.00">10</text>
<text transform="translate(724.87 1345.13) scale(0.8310 1)" font-size="29.87">−</text>
<text transform="translate(744.74 1344.40) scale(1.0687 1)" font-size="30.80">25</text>
<text transform="translate(907.14 1362.90) scale(1.0334 1)" font-size="43.00">10</text>
<text transform="translate(962.76 1345.13) scale(0.8362 1)" font-size="29.87">−</text>
<text transform="translate(983.08 1344.40) scale(1.0486 1)" font-size="30.80">20</text>
<text transform="translate(1144.99 1362.90) scale(1.0439 1)" font-size="43.00">10</text>
<text transform="translate(1201.16 1345.13) scale(0.8362 1)" font-size="29.87">−</text>
<text transform="translate(1221.58 1344.40) scale(1.0461 1)" font-size="30.80">15</text>
<text transform="translate(1383.22 1362.90) scale(1.0376 1)" font-size="43.00">10</text>
<text transform="translate(1439.36 1345.13) scale(0.8362 1)" font-size="29.87">−</text>
<text transform="translate(1460.41 1344.40) scale(1.0049 1)" font-size="30.80">10</text>
<text transform="translate(81.37 1208.75) scale(1.0271 1)" font-size="43.00">10</text>
<text transform="translate(136.76 1191.38) scale(0.8362 1)" font-size="29.87">−</text>
<text transform="translate(156.98 1190.25) scale(1.0514 1)" font-size="30.80">30</text>
<text transform="translate(81.37 1032.58) scale(1.0271 1)" font-size="43.00">10</text>
<text transform="translate(136.76 1015.21) scale(0.8362 1)" font-size="29.87">−</text>
<text transform="translate(156.97 1014.08) scale(1.0570 1)" font-size="30.80">29</text>
<text transform="translate(81.37 856.41) scale(1.0271 1)" font-size="43.00">10</text>
<text transform="translate(136.76 839.04) scale(0.8362 1)" font-size="29.87">−</text>
<text transform="translate(156.97 837.91) scale(1.0570 1)" font-size="30.80">28</text>
<text transform="translate(81.37 680.24) scale(1.0271 1)" font-size="43.00">10</text>
<text transform="translate(136.76 662.87) scale(0.8362 1)" font-size="29.87">−</text>
<text transform="translate(156.96 661.74) scale(1.0573 1)" font-size="30.80">27</text>
<text transform="translate(81.37 504.07) scale(1.0271 1)" font-size="43.00">10</text>
<text transform="translate(136.76 486.70) scale(0.8362 1)" font-size="29.87">−</text>
<text transform="translate(156.97 485.57) scale(1.0570 1)" font-size="30.80">26</text>
<text transform="translate(81.37 327.90) scale(1.0271 1)" font-size="43.00">10</text>
<text transform="translate(136.76 310.53) scale(0.8362 1)" font-size="29.87">−</text>
<text transform="translate(156.95 309.40) scale(1.0658 1)" font-size="30.80">25</text>
<text transform="translate(544.24 1425.00) scale(1.0326 1)" font-size="43.00">Mediator</text>
<text transform="translate(757.23 1425.00) scale(1.0613 1)" font-size="43.00">mass,</text>
<text transform="translate(907.95 1425.75) scale(1.6781 1)" font-size="43.77" class="ri" stroke="#000" stroke-width="0.37" stroke-linejoin="round">m</text>
<text transform="translate(963.20 1434.30) scale(1.3480 1)" font-size="31.70" class="ri" stroke="#000" stroke-width="0.51" stroke-linejoin="round">Z</text>
<text transform="translate(990.10 1456.81) scale(0.4745 1)" font-size="63.47" class="dbi">′</text>
<text transform="translate(1016.73 1425.00) scale(0.9429 1)" font-size="43.00">[eV]</text>
<text transform="translate(45.50 981.08) rotate(-90) scale(0.9614 1)" font-size="43.00">Effective</text>
<text transform="translate(45.50 789.01) rotate(-90) scale(0.9974 1)" font-size="43.00">coupling,</text>
<text transform="translate(45.70 576.01) rotate(-90) scale(1.0925 1)" font-size="50.91" class="ri" stroke="#000" stroke-width="1.53" stroke-linejoin="round">G</text>
<text transform="translate(53.74 533.46) rotate(-90) scale(1.1895 1)" font-size="32.60" class="ri" stroke="#000" stroke-width="0.82" stroke-linejoin="round">α</text>
<text transform="translate(53.13 507.40) rotate(-90) scale(1.1283 1)" font-size="32.53" class="ri" stroke="#000" stroke-width="0.85" stroke-linejoin="round">β</text>
<text transform="translate(222.68 219.40) scale(1.0646 1)" font-size="34.40">Causal</text>
<text transform="translate(358.05 219.40) scale(1.0620 1)" font-size="34.40">horizon</text>
<text transform="translate(547.98 219.40) scale(1.0600 1)" font-size="34.40">Distance</text>
<text transform="translate(719.93 219.40) scale(1.0650 1)" font-size="34.40">to</text>
<text transform="translate(769.14 219.40) scale(1.0899 1)" font-size="34.40">GC</text>
<text transform="translate(416.97 1270.40) scale(1.0200 1)" font-size="38.60" fill="#1a1a1a">Weak</text>
<text transform="translate(541.05 1270.40) scale(1.0239 1)" font-size="38.60" fill="#1a1a1a">gravity</text>
<text transform="translate(695.92 1270.40) scale(1.0390 1)" font-size="38.60" fill="#1a1a1a">conjecture</text>
<text transform="translate(1335.90 551.76) rotate(90) scale(0.9789 1)" font-size="38.60" fill="#1a1a1a">Black–hole</text>
<text transform="translate(1335.90 767.06) rotate(90) scale(0.9595 1)" font-size="38.60" fill="#1a1a1a">superradiance</text>
<text transform="translate(317.69 333.80) scale(1.0656 1)" font-size="42.62" class="i" stroke="#000" stroke-width="0.39" stroke-linejoin="round">L</text>
<text transform="translate(392.29 333.80) scale(1.0656 1)" font-size="42.62" class="i" stroke="#000" stroke-width="0.39" stroke-linejoin="round">L</text>
<text transform="translate(362.12 332.50) scale(1.0732 1)" font-size="33.60" class="b">−</text>
<text transform="translate(342.46 341.99) scale(1.0820 1)" font-size="29.41" class="i" stroke="#000" stroke-width="0.29" stroke-linejoin="round">e</text>
<text transform="translate(418.23 341.88) scale(1.0161 1)" font-size="30.04" class="i" stroke="#000" stroke-width="0.30" stroke-linejoin="round">μ</text>
<text transform="translate(317.69 391.70) scale(1.0656 1)" font-size="42.62" class="i" stroke="#000" stroke-width="0.39" stroke-linejoin="round">L</text>
<text transform="translate(392.29 391.70) scale(1.0656 1)" font-size="42.62" class="i" stroke="#000" stroke-width="0.39" stroke-linejoin="round">L</text>
<text transform="translate(362.12 390.40) scale(1.0732 1)" font-size="33.60" class="b">−</text>
<text transform="translate(342.46 399.89) scale(1.0820 1)" font-size="29.41" class="i" stroke="#000" stroke-width="0.29" stroke-linejoin="round">e</text>
<text transform="translate(419.23 400.45) scale(0.7085 1)" font-size="31.09" class="i" stroke="#000" stroke-width="0.35" stroke-linejoin="round">τ</text>
<text transform="translate(317.69 449.60) scale(1.0656 1)" font-size="42.62" class="i" stroke="#000" stroke-width="0.39" stroke-linejoin="round">L</text>
<text transform="translate(392.29 449.60) scale(1.0656 1)" font-size="42.62" class="i" stroke="#000" stroke-width="0.39" stroke-linejoin="round">L</text>
<text transform="translate(362.12 448.30) scale(1.0732 1)" font-size="33.60" class="b">−</text>
<text transform="translate(343.94 457.85) scale(1.0497 1)" font-size="30.17" class="i" stroke="#000" stroke-width="0.29" stroke-linejoin="round">μ</text>
<text transform="translate(419.23 458.35) scale(0.7085 1)" font-size="31.09" class="i" stroke="#000" stroke-width="0.35" stroke-linejoin="round">τ</text>
</g>
</svg></body></html>
